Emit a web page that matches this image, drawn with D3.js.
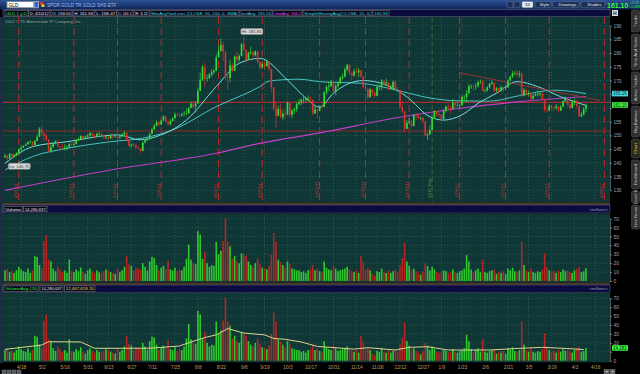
<!DOCTYPE html>
<html><head><meta charset="utf-8">
<script src="https://cdn.jsdelivr.net/npm/d3@7"></script>
<style>
body{margin:0;background:#000;}
svg{display:block;font-family:"Liberation Sans",Arial,sans-serif;}
</style></head><body>
<svg id="chart" width="640" height="374"></svg>
<script>
// GLD daily, 4/7/11 .. 4/10/12 (bar index 0..253)
var closes = [
 142.6,141.6,143.3,142.4,142.9,143.6,145.0,145.6,146.2,146.7,
 147.6,147.7,146.5,148.0,149.5,152.4,150.8,150.0,148.5,144.3,
 145.7,147.3,147.9,146.0,145.7,145.6,145.6,145.6,146.9,146.6,
 146.8,148.3,148.7,149.8,148.7,149.5,150.0,150.9,149.9,149.6,
 150.6,150.6,150.2,149.3,149.6,148.9,149.9,149.7,149.9,149.1,
 149.6,150.4,151.0,148.7,146.2,146.7,146.3,145.5,145.3,144.3,
 147.4,148.3,148.6,150.6,152.2,153.5,154.8,153.9,155.4,156.9,
 154.9,154.1,155.2,156.2,157.6,157.4,157.3,157.8,158.0,158.0,
 160.0,161.6,160.5,161.6,166.2,170.1,175.0,170.7,170.9,172.2,
 173.0,173.6,178.5,180.7,183.0,180.6,171.0,170.9,175.6,173.5,
 178.8,177.6,178.9,183.3,181.3,177.6,180.2,180.4,179.2,180.7,
 176.8,174.8,176.0,175.2,176.9,174.3,167.6,159.7,157.2,159.6,
 156.6,157.9,157.6,161.9,157.5,159.0,159.6,161.4,162.0,163.0,
 163.0,163.5,163.5,163.0,158.0,159.5,159.0,160.6,160.4,165.7,
 167.7,168.0,169.6,166.0,168.0,169.0,171.0,171.5,174.0,175.7,
 172.5,171.8,173.4,173.0,173.7,171.5,167.6,167.0,164.0,166.8,
 165.5,164.4,167.7,167.9,170.0,169.0,169.4,167.0,167.6,169.5,
 166.8,166.6,160.4,158.8,152.4,154.6,155.0,153.4,157.4,157.2,
 156.3,156.4,155.2,150.0,150.3,152.0,156.6,158.9,157.9,157.5,
 156.0,159.0,160.5,160.0,159.6,162.0,161.0,161.0,161.0,164.0,
 164.0,165.4,167.9,167.9,167.8,168.1,169.4,169.7,166.3,166.5,
 167.5,168.8,169.3,166.3,167.2,166.3,167.6,167.3,167.5,170.0,
 171.4,172.7,172.8,172.1,172.5,164.5,166.6,165.5,165.5,163.4,
 164.5,165.0,165.0,165.3,163.3,159.3,159.1,160.8,160.2,160.0,
 160.6,159.0,160.5,162.4,163.3,161.2,160.0,162.1,162.6,160.8,
 157.0,157.6,159.6,161.1];
var highs = [
 143.4,142.9,143.6,143.5,143.3,143.9,145.2,146.3,146.5,147.2,
 147.9,148.3,147.8,148.4,150.3,153.0,153.4,151.2,150.5,148.3,
 146.9,147.6,148.2,148.5,146.3,146.9,146.7,146.5,147.3,147.4,
 147.4,148.6,149.3,150.1,149.9,149.9,150.6,151.1,151.0,150.5,
 151.0,151.3,151.0,150.4,150.0,149.6,150.3,150.4,150.4,150.3,
 149.9,150.8,151.6,150.4,148.1,147.1,147.2,146.9,146.2,145.3,
 147.7,148.6,149.3,151.0,152.7,154.2,155.5,155.1,155.8,157.5,
 156.9,155.4,155.9,156.6,158.4,158.3,158.1,158.3,158.9,159.8,
 160.4,162.4,162.5,162.6,167.3,172.9,175.6,176.5,172.2,172.8,
 174.1,174.3,179.5,182.8,185.2,184.2,177.4,172.8,177.6,176.3,
 179.1,180.5,179.6,183.7,185.85,179.9,180.5,182.4,180.7,181.0,
 180.3,177.3,176.7,177.2,177.5,177.0,171.2,165.2,162.2,160.8,
 161.6,159.2,159.7,162.4,161.8,159.6,160.2,162.0,163.3,163.5,
 164.1,164.0,164.6,164.3,162.4,160.8,159.5,161.0,161.3,166.0,
 168.2,169.7,170.3,169.5,168.8,169.7,171.6,172.6,174.8,176.2,
 176.0,173.2,174.3,174.7,174.6,174.0,171.2,168.4,166.3,167.4,
 166.9,165.8,168.3,168.6,170.5,170.0,170.7,169.2,168.5,170.1,
 170.3,167.7,165.2,162.6,157.5,155.6,156.3,155.6,157.7,158.1,
 157.8,156.9,156.7,154.4,151.1,153.7,157.0,159.2,159.1,158.7,
 157.7,159.6,160.9,161.6,161.0,163.3,162.2,162.4,161.6,164.6,
 164.7,166.5,168.8,168.6,168.7,169.1,170.0,170.4,170.2,167.1,
 168.1,169.2,170.2,168.7,167.7,167.4,168.2,167.9,168.1,170.5,
 171.8,173.5,173.6,173.8,173.6,173.2,167.3,167.1,166.3,165.0,
 165.0,165.8,166.5,165.9,165.8,162.4,160.5,161.4,161.2,160.5,
 161.4,160.3,161.0,162.9,164.1,163.4,161.5,162.6,163.4,163.0,
 160.3,158.6,160.5,161.58];
var lows = [
 141.9,140.75,141.4,141.9,142.1,142.4,143.4,144.2,145.4,146.2,
 146.7,147.1,146.1,146.3,148.5,150.8,150.2,147.8,148.0,144.0,
 143.6,145.8,146.7,145.5,144.5,145.2,144.6,144.5,145.4,146.1,
 145.6,146.8,148.0,148.6,148.2,148.7,149.2,149.6,149.4,149.0,
 149.5,150.2,149.7,148.7,148.6,148.4,148.8,148.7,149.1,148.8,
 148.6,149.4,150.0,147.7,145.8,145.6,145.9,145.1,144.9,143.6,
 145.2,147.1,147.9,148.8,150.9,152.4,153.6,153.3,154.0,155.6,
 154.6,153.4,153.6,155.2,157.0,156.9,156.6,156.8,157.0,157.4,
 158.0,160.3,159.8,158.3,163.8,166.7,169.9,167.6,169.6,170.6,
 171.4,172.3,174.6,178.7,181.7,177.0,170.1,166.6,169.4,172.9,
 174.2,176.4,176.8,178.9,180.8,176.3,177.5,179.3,177.8,178.8,
 176.1,173.8,174.3,174.0,175.5,173.6,165.8,159.0,152.7,157.0,
 156.2,155.6,155.8,157.4,156.6,156.3,157.9,158.6,160.9,161.0,
 161.7,161.9,162.3,161.7,157.5,157.9,156.4,158.9,159.6,160.8,
 164.9,166.2,167.7,165.3,164.6,167.3,168.4,170.3,171.1,173.4,
 172.1,170.2,171.5,172.5,171.2,171.1,167.0,166.0,163.2,163.6,
 164.4,163.7,165.6,166.4,166.5,168.2,168.0,166.3,166.6,166.8,
 166.0,165.7,159.9,158.1,151.2,152.8,154.0,153.0,153.9,155.6,
 155.9,155.5,154.6,149.8,148.3,150.3,153.4,156.0,156.8,156.4,
 155.3,156.7,158.3,159.4,158.0,160.4,160.0,160.3,159.6,161.4,
 162.4,161.9,165.3,166.9,166.3,166.6,167.4,168.6,166.0,165.7,
 165.8,167.1,168.4,165.6,165.8,165.2,165.9,165.8,166.5,167.9,
 169.7,170.9,172.0,171.3,171.1,163.8,164.6,164.6,164.2,162.3,
 163.0,164.3,164.2,164.3,162.7,158.5,158.3,159.3,159.4,158.8,
 159.4,158.3,158.9,160.4,162.3,160.6,159.2,160.4,161.1,160.2,
 156.8,156.7,157.3,158.47];
var firstOpen = 142.0;
// volume, millions of shares
var volumes = [
 12,14,10,11,9,12,16,13,11,10,
 14,9,12,28,27,18,14,45,52,24,
 22,14,11,16,13,10,12,9,24,11,
 10,13,11,15,10,8,12,14,11,9,
 12,10,9,11,13,12,10,9,8,14,
 10,12,16,28,19,17,12,15,14,13,
 20,16,12,22,27,26,18,12,15,17,
 14,23,13,12,15,11,13,12,16,25,
 41,24,20,19,56,52,25,33,20,16,
 18,17,44,30,34,45,71,44,39,25,
 28,22,20,31,30,28,22,18,16,20,
 25,19,15,14,13,17,30,54,44,24,
 21,18,15,22,19,14,13,12,12,10,
 11,9,12,13,18,12,14,11,10,22,
 15,13,12,17,14,11,12,13,14,16,
 13,11,10,12,9,28,22,13,15,12,
 8,6,11,10,14,10,9,12,9,11,
 13,10,18,26,43,22,17,13,14,11,
 9,7,10,20,17,12,16,13,10,9,
 10,12,11,9,10,13,10,9,11,12,
 14,29,22,13,10,12,14,10,24,10,
 9,11,12,13,8,10,9,11,8,14,
 12,15,11,10,12,44,18,12,10,14,
 10,9,11,10,13,31,16,12,10,11,
 9,12,10,13,11,12,10,9,12,14,
 16,10,11,14.28];

// moving averages: [bar index, value]
var sma20Pts = [[0,139.8],[12,145.9],[27,147.7],[49,150.2],[59,148.4],[66,149.6],[79,155.6],[92,167.8],[102,176.3],[111,178.1],[123,170.2],[132,162.9],[137,160.3],[143,165.4],[156,170.0],[166,168.4],[175,164.1],[185,156.8],[191,155.6],[199,157.5],[206,161.7],[214,165.4],[223,169.6],[232,167.8],[242,164.1],[253,160.93]];
var sma50Pts = [[0,137.4],[12,142.3],[27,145.3],[46,147.7],[60,149.0],[73,152.0],[92,160.5],[111,167.8],[115,169.8],[128,170.5],[137,169.6],[155,169.0],[173,166.0],[184,163.8],[198,162.6],[211,162.5],[224,164.5],[239,166.5],[253,165.26]];
var sma200Pts = [[0,130.0],[46,137.4],[92,143.5],[111,147.1],[137,150.9],[173,156.8],[198,159.9],[224,162.3],[253,164.2]];
var volAvgPts = [[0,12.7],[16,17.6],[19,21.3],[33,21],[39,13.9],[63,14],[76,16.5],[81,21],[87,26],[92,29],[97,36],[104,31],[113,29],[117,25],[122,24],[129,21],[136,16],[152,13],[158,14.6],[170,12],[176,15],[184,15.7],[193,12],[211,12],[225,14],[234,15],[243,13.9],[252,12.5]];

// axis ticks
var tickIdx = [7,16,26,36,45,55,64,74,84,94,104,113,123,133,143,153,162,172,182,190,199,209,219,228,238,248,257];
var tickLabels = ["4/18","5/2","5/16","5/31","6/13","6/27","7/11","7/25","8/8","8/22","9/6","9/19","10/3","10/17","10/31","11/14","11/28","12/12","12/27","1/9","1/23","2/6","2/21","3/5","3/19","4/2","4/16"];
var priceTicks = [130,135,140,145,150,155,160,165,170,175,180,185,190];
var volTicks = [0,10,20,30,40,50,60,70];
// option expiration markers
var expIdx = [6,30,49,68,93,112,137,157,176,198,218,237,261];
var expLabels = ["4/15/11","5/20/11","6/17/11","7/15/11","8/19/11","9/16/11","10/21/11","11/18/11","12/16/11","1/20/12","2/17/12","3/16/12","4/20/12"];
var yearIdx = 186, yearLabel = "2012 Year";
// drawings
var levelPrices = [162.1, 151.6];
var trendLine = [[198,172.8],[253,163.5]];

var svg = d3.select("#chart");
var W = 640, H = 374, L = 3, R = 610;

var x = d3.scaleLinear().domain([0, 253]).range([5, 586]);
var yP = d3.scaleLinear().domain([130, 190]).range([190.3, 25.7]);
var yV = d3.scaleLinear().domain([0, 70]).range([281, 218.7]);
var yA = d3.scaleLinear().domain([0, 70]).range([360.7, 298.3]);

var opens = closes.map(function(c, i) { return i ? closes[i-1] : firstOpen; });
function isUp(i) { return closes[i] >= opens[i]; }

svg.append("rect").attr("width", W).attr("height", H).attr("fill", "#000");

// ---- title bar
var defs = svg.append("defs");
var g1 = defs.append("linearGradient").attr("id","tb").attr("x1",0).attr("y1",0).attr("x2",0).attr("y2",1);
g1.append("stop").attr("offset",0).attr("stop-color","#2d5396");
g1.append("stop").attr("offset",1).attr("stop-color","#0d2458");
svg.append("rect").attr("width", W).attr("height", 9.5).attr("fill","url(#tb)");
svg.append("rect").attr("x",7).attr("y",1.5).attr("width",27).attr("height",6.3).attr("fill","#fff").attr("stroke","#789");
svg.append("text").attr("x",8.5).attr("y",6.6).attr("font-size",4.8).attr("fill","#000").text("GLD");
svg.append("rect").attr("x",34).attr("y",1.5).attr("width",4.5).attr("height",6.3).attr("fill","#36c").attr("stroke","#9ab");
svg.append("rect").attr("x",40).attr("y",2).attr("width",3).attr("height",2.6).attr("fill","#e33");
svg.append("rect").attr("x",41.5).attr("y",4.4).attr("width",3).attr("height",2.6).attr("fill","#ec3");
svg.append("text").attr("x",47).attr("y",6.5).attr("font-size",4.6).attr("fill","#9fb9ea").text("SPDR GOLD TR GOLD SHS ETF");

var btns = [[507,513,""],[514,520,""],[522,533,"10"],[535,551,"Style"],[553,579,"Drawings"],[581,605,"Studies"]];
btns.forEach(function(b) {
  svg.append("rect").attr("x",b[0]).attr("y",1.6).attr("width",b[1]-b[0]).attr("height",6.2).attr("rx",1)
    .attr("fill", b[2]==="10" ? "#e8e8e8" : "#1c2f55").attr("stroke","#6b7fa8").attr("stroke-width",0.5);
  if (b[2]) svg.append("text").attr("x",(b[0]+b[1])/2 + (b[2]==="10"?0:1.5)).attr("y",6.3).attr("text-anchor","middle")
    .attr("font-size",4.3).attr("fill", b[2]==="10" ? "#000" : "#e6e6e6").text(b[2]);
});
svg.append("text").attr("x",607).attr("y",7.6).attr("font-size",7).attr("font-weight","bold").attr("fill","#3f3").text("161.10");
svg.append("text").attr("x",630).attr("y",4).attr("font-size",3.4).attr("fill","#3f3").text("+1.73");
svg.append("text").attr("x",629).attr("y",8).attr("font-size",3.4).attr("fill","#3f3").text("+1.08%");

// ---- study header row
svg.append("rect").attr("x",L).attr("y",9.7).attr("width",R-L).attr("height",6.8).attr("fill","#0b0b3e").attr("stroke","#7a7a9a").attr("stroke-width",0.5);
var hdr = [
  [5,28,"GLD 1 y D","#3e3"],[28.5,50,"D: 4/10/12","#e8e8e8"],[51,72,"O: 159.00","#e8e8e8"],[73,94,"H: 161.58","#e8e8e8"],
  [95,116.5,"L: 158.47","#e8e8e8"],[117,133,"C: 161.1","#e8e8e8"],[134,149,"R: 3.11","#e8e8e8"],
  [150,239,"MovAvgTwoLines (CLOSE, 50, 200, 0, SMA)","#3dd"],[240,272,"fastAvg: 165.26","#3dd"],
  [273,302,"slowAvg: 164.2","#e4e"],[303,372,"SimpleMovingAvg(CLOSE, 20, 0)","#3dd"],[373,389,"160.93","#3dd"]];
hdr.forEach(function(h) {
  svg.append("rect").attr("x",h[0]).attr("y",10.3).attr("width",h[1]-h[0]).attr("height",5.6)
    .attr("fill","#05051c").attr("stroke","#8a8a8a").attr("stroke-width",0.5);
  svg.append("text").attr("x",h[0]+1.2).attr("y",14.8).attr("font-size",4.4).attr("fill",h[3])
    .attr("textLength",h[1]-h[0]-2.4).attr("lengthAdjust","spacingAndGlyphs").text(h[2]);
});
svg.append("rect").attr("x",612).attr("y",10).attr("width",6).attr("height",6).attr("fill","#ddd");
svg.append("text").attr("x",613).attr("y",15).attr("font-size",5).attr("font-weight","bold").attr("fill","#222").text("H");

// ---- panels
var panelBg = "#0f3735";
svg.append("rect").attr("x",0).attr("y",17).attr("width",L).attr("height",346).attr("fill","#1d2d42");
svg.append("rect").attr("x",L).attr("y",17).attr("width",R-L).attr("height",185.5).attr("fill",panelBg);
svg.append("rect").attr("x",L).attr("y",202.5).attr("width",R-L).attr("height",2.5).attr("fill","#463828");
svg.append("rect").attr("x",L).attr("y",205).attr("width",R-L).attr("height",8).attr("fill","#0b0b40").attr("stroke","#6a6a8a").attr("stroke-width",0.5);
svg.append("rect").attr("x",L).attr("y",213.5).attr("width",R-L).attr("height",69).attr("fill",panelBg);
svg.append("rect").attr("x",L).attr("y",282.5).attr("width",R-L).attr("height",2.3).attr("fill","#463828");
svg.append("rect").attr("x",L).attr("y",285).attr("width",R-L).attr("height",7.5).attr("fill","#0b0b40").attr("stroke","#6a6a8a").attr("stroke-width",0.5);
svg.append("rect").attr("x",L).attr("y",292.8).attr("width",R-L).attr("height",69.5).attr("fill",panelBg);

// grids
var gridCol = "#3f6e68";
function hgrid(scale, vals, y0, y1) {
  svg.append("g").selectAll("line").data(vals).enter().append("line")
    .attr("x1",L).attr("x2",R).attr("y1",function(d){return scale(d);}).attr("y2",function(d){return scale(d);})
    .attr("stroke",gridCol).attr("stroke-width",0.6).attr("stroke-dasharray","1,2");
  svg.append("g").selectAll("line").data(tickIdx).enter().append("line")
    .attr("x1",function(d){return x(d);}).attr("x2",function(d){return x(d);}).attr("y1",y0).attr("y2",y1)
    .attr("stroke",gridCol).attr("stroke-width",0.6).attr("stroke-dasharray","1,2");
}
hgrid(yP, priceTicks, 18, 202);
hgrid(yV, volTicks.slice(1), 214, 282);
hgrid(yA, volTicks.slice(1), 293, 362);

svg.append("text").attr("x",5).attr("y",22.6).attr("font-size",4.3).attr("fill","#90a4a2")
  .attr("textLength",77).attr("lengthAdjust","spacingAndGlyphs").text("2012 \u00a9 TD Ameritrade IP Company, Inc.");

// expiration lines + labels
svg.append("g").selectAll("line").data(expIdx).enter().append("line")
  .attr("x1",function(d){return x(d);}).attr("x2",function(d){return x(d);}).attr("y1",17).attr("y2",202.5)
  .attr("stroke","#c0282b").attr("stroke-width",1).attr("stroke-dasharray","7,4");
svg.append("g").selectAll("text").data(expIdx).enter().append("text")
  .attr("transform",function(d){return "translate(" + (x(d)-1.6) + ",198) rotate(-90)";})
  .attr("font-size",4.4).attr("fill","#c83030").text(function(d,i){return expLabels[i];});
svg.append("line").attr("x1",x(yearIdx)).attr("x2",x(yearIdx)).attr("y1",17).attr("y2",202.5)
  .attr("stroke","#5b6b3a").attr("stroke-width",0.8).attr("stroke-dasharray","5,3");
svg.append("text").attr("transform","translate(" + (x(yearIdx)-1.6) + ",198) rotate(-90)")
  .attr("font-size",4.4).attr("fill","#7d8a48").text(yearLabel);

// price levels
svg.append("g").selectAll("line").data(levelPrices).enter().append("line")
  .attr("x1",L).attr("x2",R).attr("y1",function(d){return yP(d);}).attr("y2",function(d){return yP(d);})
  .attr("stroke",function(d,i){return i ? "#8e2a2a" : "#d02828";}).attr("stroke-width",1.1);

// moving averages
var line = d3.line().x(function(d){return x(d[0]);}).y(function(d){return yP(d[1]);}).curve(d3.curveMonotoneX);
svg.append("path").attr("d",line(sma200Pts)).attr("fill","none").attr("stroke","#c23ec8").attr("stroke-width",1.2);
svg.append("path").attr("d",line(sma50Pts)).attr("fill","none").attr("stroke","#46c2c2").attr("stroke-width",1);
svg.append("path").attr("d",line(sma20Pts)).attr("fill","none").attr("stroke","#72dede").attr("stroke-width",1);

// trend line drawing
svg.append("line").attr("x1",x(trendLine[0][0])).attr("y1",yP(trendLine[0][1]))
  .attr("x2",x(trendLine[1][0])+14).attr("y2",yP(trendLine[1][1])+2)
  .attr("stroke","#a83434").attr("stroke-width",0.9);

// candles
var up = "#35dd35", dn = "#dd3030";
var idx = d3.range(closes.length);
var cg = svg.append("g");
cg.selectAll("line").data(idx).enter().append("line")
  .attr("x1",function(i){return x(i);}).attr("x2",function(i){return x(i);})
  .attr("y1",function(i){return yP(Math.max(highs[i],opens[i],closes[i]));})
  .attr("y2",function(i){return yP(Math.min(lows[i],opens[i],closes[i]));})
  .attr("stroke",function(i){return isUp(i)?up:dn;}).attr("stroke-width",0.7);
cg.selectAll("rect").data(idx).enter().append("rect")
  .attr("x",function(i){return x(i)-0.8;}).attr("width",1.6)
  .attr("y",function(i){return yP(Math.max(opens[i],closes[i]));})
  .attr("height",function(i){return Math.max(0.6, Math.abs(yP(opens[i])-yP(closes[i])));})
  .attr("fill",function(i){return isUp(i)?up:dn;});

// hi / lo bubbles
function bubble(bx, by, txt) {
  svg.append("rect").attr("x",bx).attr("y",by).attr("width",22).attr("height",6).attr("rx",1.5)
    .attr("fill","#d8d8d8").attr("stroke","#888").attr("stroke-width",0.5);
  svg.append("text").attr("x",bx+11).attr("y",by+4.5).attr("text-anchor","middle").attr("font-size",4.3).attr("fill","#333").text(txt);
}
bubble(x(104)-3, yP(185.85)-8.5, "Hi: 185.85");
bubble(x(1)+1, yP(140.75)+2.5, "Lo: 140.75");

// volume bars
function volBars(scale) {
  svg.append("g").selectAll("rect").data(idx).enter().append("rect")
    .attr("x",function(i){return x(i)-0.8;}).attr("width",1.6)
    .attr("y",function(i){return scale(volumes[i]);})
    .attr("height",function(i){return scale(0)-scale(volumes[i]);})
    .attr("fill",function(i){return isUp(i)?"#30c830":"#b42626";});
}
volBars(yV);
volBars(yA);
var vline = d3.line().x(function(d){return x(d[0]);}).y(function(d){return yA(d[1]);});
svg.append("path").attr("d",vline(volAvgPts)).attr("fill","none").attr("stroke","#dcd68c").attr("stroke-width",1);

// panel headers
function hbox(x0, x1, y, txt, col) {
  svg.append("rect").attr("x",x0).attr("y",y).attr("width",x1-x0).attr("height",5.6)
    .attr("fill","#05051c").attr("stroke","#8a8a8a").attr("stroke-width",0.5);
  svg.append("text").attr("x",x0+1.2).attr("y",y+4.5).attr("font-size",4.4).attr("fill",col)
    .attr("textLength",x1-x0-2.4).attr("lengthAdjust","spacingAndGlyphs").text(txt);
}
hbox(4,22.5,206.2,"Volume","#e8e8e8");
hbox(23.5,47,206.2,"14,280,637","#e8e8e8");
hbox(4,39,285.9,"VolumeAvg (20)","#3e3");
hbox(40,63,285.9,"14,280,637","#e8e8e8");
hbox(64.5,95,285.9,"12,467,618.15","#e6e060");
svg.append("text").attr("x",608).attr("y",210.8).attr("text-anchor","end").attr("font-size",4.2).attr("fill","#9a9ab8").text("<millions>");
svg.append("text").attr("x",608).attr("y",290.4).attr("text-anchor","end").attr("font-size",4.2).attr("fill","#9a9ab8").text("<millions>");

// right axes (labels hidden where a value box sits on top of them)
function styleAxis(g) {
  g.select(".domain").attr("stroke","#555");
  g.selectAll(".tick line").attr("stroke","#777");
  g.selectAll(".tick text").attr("fill","#a6a6a6").attr("font-size",4.8).attr("font-family","Liberation Sans, Arial, sans-serif");
}
function axisFmt(hidden) { return function(d) { return hidden.indexOf(d) >= 0 ? "" : d; }; }
svg.append("g").attr("transform","translate(" + R + ",0)")
  .call(d3.axisRight(yP).tickValues(priceTicks).tickSize(2).tickPadding(1.5).tickSizeOuter(0).tickFormat(axisFmt([160,165]))).call(styleAxis);
svg.append("g").attr("transform","translate(" + R + ",0)")
  .call(d3.axisRight(yV).tickValues(volTicks).tickSize(2).tickPadding(1.5).tickSizeOuter(0)).call(styleAxis);
svg.append("g").attr("transform","translate(" + R + ",0)")
  .call(d3.axisRight(yA).tickValues(volTicks).tickSize(2).tickPadding(1.5).tickSizeOuter(0).tickFormat(axisFmt([10]))).call(styleAxis);

// value boxes on the price / volume axis
function vbox(y, txt, fill) {
  svg.append("rect").attr("x",612).attr("y",y-2.8).attr("width",16).attr("height",5.6).attr("fill",fill);
  svg.append("text").attr("x",620).attr("y",y+1.6).attr("text-anchor","middle").attr("font-size",4.5).attr("fill","#0a2a1a").text(txt);
}
vbox(yP(165.26), "165.26", "#46d8e0");
vbox(yP(161.1), "161.10", "#3cf03c");
vbox(yA(14.28), "14.281", "#3cf03c");

// bottom date axis
var xa = svg.append("g").attr("transform","translate(0,363)")
  .call(d3.axisBottom(x).tickValues(tickIdx).tickSize(0).tickPadding(2.5).tickFormat(function(d,i){return tickLabels[i];}));
xa.select(".domain").remove();
xa.selectAll(".tick text").attr("fill","#c49a5c").attr("font-size",4.8).attr("font-family","Liberation Sans, Arial, sans-serif");

// bottom-left / bottom-right small controls
[2,7,12,17].forEach(function(bx) {
  svg.append("rect").attr("x",bx).attr("y",370).attr("width",4).attr("height",4).attr("fill","#505860").attr("stroke","#888").attr("stroke-width",0.4);
});
[604,610].forEach(function(bx) {
  svg.append("rect").attr("x",bx).attr("y",369.5).attr("width",5).attr("height",4.5).attr("fill","#555").attr("stroke","#999").attr("stroke-width",0.4);
  svg.append("text").attr("x",bx+2.5).attr("y",373.3).attr("text-anchor","middle").attr("font-size",4.5).attr("fill","#eee").text("+");
});

// right side tabs
var tabs = [[10,32,"Trade"],[34,70,"Time And Sales"],[72,104,"Active Trader"],[106,137,"Big Buttons"],[139,158,"Chart"],[160,189,"Dashboard"],[191,203,"Level II"],[205,229,"Live News"]];
tabs.forEach(function(t) {
  svg.append("rect").attr("x",631.5).attr("y",t[0]).attr("width",8).attr("height",t[1]-t[0]).attr("rx",1.5)
    .attr("fill", t[2]==="Chart" ? "#2a2a22" : "#303030").attr("stroke","#5a5a5a").attr("stroke-width",0.5);
  svg.append("text").attr("transform","translate(637.2," + ((t[0]+t[1])/2) + ") rotate(-90)")
    .attr("text-anchor","middle").attr("font-size",4.4).attr("fill", t[2]==="Chart" ? "#e6c020" : "#c8c8c8").text(t[2]);
});
</script></body></html>
